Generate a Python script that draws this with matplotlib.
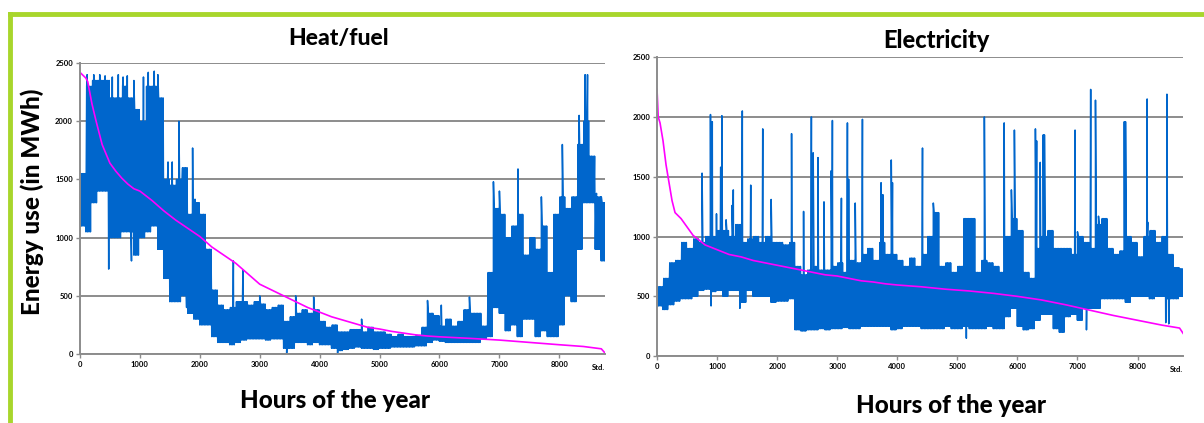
import numpy as np
import matplotlib
matplotlib.use("Agg")
import matplotlib.pyplot as plt
from matplotlib.lines import Line2D

plt.rcParams['font.family'] = ['Lato', 'DejaVu Sans']

# hour bins (100 h each) of the year
bin_hours = list(range(0, 8800, 100))

# heat/fuel: typical low / high of the hourly trace in every bin (MWh)
heat_low = [1100, 1050, 1300, 1400, 1400, 1000, 1000, 1050, 1050, 850,
            1000, 1050, 1100, 900, 650, 450, 450, 500, 350, 300,
            250, 250, 150, 100, 100, 80, 100, 120, 130, 130,
            130, 120, 130, 130, 50, 50, 100, 100, 80, 100,
            80, 80, 50, 30, 40, 50, 60, 50, 50, 40,
            50, 50, 60, 60, 60, 60, 70, 70, 100, 120,
            110, 100, 100, 100, 100, 100, 100, 130, 150, 400,
            350, 200, 250, 150, 300, 300, 150, 200, 150, 150,
            250, 500, 450, 900, 1300, 1300, 900, 800]
heat_high = [1550, 2300, 2350, 2350, 2350, 2200, 2200, 2300, 2200, 2100,
             2000, 2300, 2300, 2200, 1500, 1450, 1500, 1600, 1200, 1300,
             1200, 900, 550, 420, 380, 400, 450, 450, 420, 450,
             430, 380, 400, 420, 280, 320, 350, 380, 350, 380,
             280, 230, 250, 190, 190, 210, 210, 190, 230, 190,
             190, 170, 150, 170, 150, 150, 160, 230, 350, 330,
             240, 300, 240, 280, 380, 350, 350, 240, 700, 1250,
             1200, 1000, 1100, 1200, 850, 1000, 900, 1100, 700, 1200,
             1350, 1250, 1350, 1800, 2000, 1700, 1350, 1300]
heat_spike_hours = [120, 230, 330, 420, 480, 540, 640, 720, 790, 860, 900, 1060,
                    1140, 1240, 1300, 1380, 1470, 1540, 1650, 1700, 1780, 1880,
                    1920, 2040, 2560, 2720, 3000, 3450, 3600, 3900, 4300, 4700,
                    5800, 6030, 6500, 6900, 7000, 7310, 7700, 8050, 8330, 8430,
                    8470, 8620, 8700]
heat_spike_vals = [2400, 2400, 2400, 2390, 730, 2380, 2400, 2380, 2390, 800, 2350, 2380,
                   2420, 2430, 2400, 1650, 1650, 1650, 2000, 1400, 400, 1770,
                   1330, 1000, 800, 720, 500, 10, 500, 490, 10, 300,
                   460, 420, 490, 1480, 1400, 1590, 1350, 1800, 2050, 2400,
                   2400, 1380, 1350]
# heat/fuel: sorted load (duration) curve
heat_dur_hours = [0, 100, 130, 200, 270, 370, 500, 600, 700, 800, 900, 1000,
                  1200, 1400, 1600, 1800, 2000, 2200, 2400, 2600, 2800, 3000,
                  3200, 3400, 3600, 3800, 4000, 4200, 4400, 4600, 4800, 5000,
                  5200, 5400, 5600, 5800, 6000, 6500, 7000, 7500, 8000, 8400,
                  8700, 8760]
heat_dur_vals = [2420, 2370, 2340, 2150, 2000, 1800, 1640, 1570, 1510, 1460, 1420, 1400,
                 1320, 1230, 1150, 1080, 1010, 920, 850, 780, 690, 600,
                 550, 500, 450, 400, 360, 320, 290, 260, 230, 215,
                 195, 180, 165, 155, 148, 135, 120, 100, 80, 65,
                 45, 10]

# electricity
elec_low = [420, 390, 430, 460, 480, 480, 500, 550, 560, 540,
            550, 500, 550, 550, 450, 550, 500, 500, 500, 450,
            460, 460, 480, 220, 210, 220, 220, 230, 220, 230,
            230, 240, 230, 230, 250, 250, 250, 250, 250, 220,
            230, 250, 250, 250, 230, 230, 230, 230, 250, 230,
            230, 250, 230, 230, 230, 250, 230, 230, 330, 400,
            250, 220, 230, 300, 350, 350, 230, 200, 330, 350,
            300, 400, 400, 400, 480, 480, 480, 480, 450, 500,
            500, 500, 480, 500, 500, 480, 480, 500]
elec_high = [580, 650, 780, 800, 950, 900, 980, 950, 1000, 1000,
             1050, 1050, 1000, 1100, 950, 980, 1000, 950, 1000, 950,
             950, 930, 950, 750, 680, 720, 750, 720, 720, 750,
             780, 700, 800, 780, 850, 900, 800, 950, 850, 850,
             800, 750, 820, 750, 850, 1000, 1200, 750, 780, 700,
             750, 1150, 1150, 700, 800, 780, 750, 700, 1000, 1150,
             1050, 700, 650, 900, 1000, 1050, 900, 900, 900, 850,
             1000, 950, 900, 1100, 1150, 900, 850, 880, 1000, 950,
             830, 1000, 1050, 950, 1000, 850, 740, 730]
elec_spike_hours = [750, 890, 900, 920, 990, 1060, 1080, 1150, 1250, 1270, 1380,
                    1420, 1560, 1760, 1900, 2240, 2440, 2570, 2600, 2680, 2780,
                    2900, 2920, 3070, 3170, 3190, 3300, 3420, 3730, 3760, 3900,
                    3920, 4420, 4600, 5150, 5450, 5780, 5900, 5950, 6300, 6320,
                    6380, 6430, 6450, 6960, 7000, 7150, 7220, 7300, 7350, 7780,
                    7800, 8160, 8170, 8470, 8490, 8520]
elec_spike_vals = [1530, 2020, 420, 1960, 1190, 1580, 2010, 1140, 1260, 1390, 400,
                   2050, 1430, 1900, 1310, 1860, 1210, 2000, 1700, 1660, 1290,
                   1550, 1970, 1320, 1950, 1480, 1280, 1980, 1450, 1350, 1640,
                   1450, 1740, 1280, 150, 2000, 1950, 1390, 1890, 1900, 1800,
                   1620, 1850, 1850, 1890, 1040, 220, 2230, 2140, 1170, 1960,
                   1960, 2150, 1120, 280, 2190, 270]
elec_dur_hours = [0, 20, 50, 100, 150, 200, 250, 300, 400, 500, 600, 800,
                  1000, 1200, 1400, 1600, 1800, 2000, 2200, 2400, 2600, 2800,
                  3000, 3200, 3400, 3600, 3800, 4000, 4400, 4800, 5200, 5600,
                  6000, 6400, 6800, 7200, 7600, 8000, 8400, 8700, 8760]
elec_dur_vals = [2230, 2000, 1950, 1800, 1600, 1450, 1300, 1200, 1150, 1080, 1010, 930,
                 890, 850, 830, 800, 780, 760, 740, 720, 700, 680,
                 670, 650, 630, 620, 605, 595, 580, 560, 545, 525,
                 500, 470, 430, 385, 340, 300, 260, 235, 190]

BLUE = '#0066cc'
PINK = '#ff00ff'
GRID = '#8c8c8c'


def trace(low, high, spike_h, spike_v):
    # hourly trace swinging between the read low/high of each bin, plus the spikes
    pts = []
    for h, lo, hi in zip(bin_hours, low, high):
        for k in range(4):
            pts += [(h + 25 * k, lo), (h + 25 * k + 12.5, hi)]
    pts += list(zip(spike_h, spike_v))
    pts.sort(key=lambda p: p[0])
    x = np.array([p[0] for p in pts])
    y = np.array([p[1] for p in pts])
    return x, y


def style(ax):
    ax.set_xlim(0, 8760)
    ax.set_ylim(0, 2500)
    ax.set_xticks(range(0, 9000, 1000))
    ax.set_yticks(range(0, 3000, 500))
    ax.grid(axis='y', color=GRID, linewidth=1.4)
    ax.set_axisbelow(True)
    for s in ['top', 'right']:
        ax.spines[s].set_visible(False)
    for s in ['left', 'bottom']:
        ax.spines[s].set_color(GRID)
        ax.spines[s].set_linewidth(1.4)
    ax.tick_params(axis='both', labelsize=5.5, color=GRID, length=3, width=1, pad=2)
    for lab in ax.get_xticklabels() + ax.get_yticklabels():
        lab.set_fontweight('bold')
    ax.text(1.0, -0.045, 'Std.', transform=ax.transAxes, ha='right', va='center',
            fontsize=5.5, fontweight='bold')


fig = plt.figure(figsize=(12.04, 4.23), dpi=100)

ax1 = fig.add_axes([0.0664, 0.163, 0.436, 0.688])
x, y = trace(heat_low, heat_high, heat_spike_hours, heat_spike_vals)
ax1.plot(x, y, color=BLUE, linewidth=1.1)
ax1.plot(heat_dur_hours, heat_dur_vals, color=PINK, linewidth=1.2)
style(ax1)

ax2 = fig.add_axes([0.5457, 0.158, 0.437, 0.707])
x, y = trace(elec_low, elec_high, elec_spike_hours, elec_spike_vals)
ax2.plot(x, y, color=BLUE, linewidth=1.1)
ax2.plot(elec_dur_hours, elec_dur_vals, color=PINK, linewidth=1.2)
style(ax2)

fig.text(0.2816, 0.910, 'Heat/fuel', ha='center', va='center', fontsize=16.5, fontweight='black')
fig.text(0.778, 0.905, 'Electricity', ha='center', va='center', fontsize=17, fontweight='black')
fig.text(0.027, 0.524, 'Energy use (in MWh)', rotation=90, ha='center', va='center',
         fontsize=17.5, fontweight='black')
fig.text(0.278, 0.054, 'Hours of the year', ha='center', va='center', fontsize=17.5, fontweight='black')
fig.text(0.790, 0.042, 'Hours of the year', ha='center', va='center', fontsize=17.5, fontweight='black')

# green frame
green = '#a8d62c'
fig.add_artist(Line2D([0.008, 1.0], [0.967, 0.967], color=green, linewidth=3.5))
fig.add_artist(Line2D([0.008, 0.008], [0.0, 0.967], color=green, linewidth=3.5))

fig.savefig('out.png', dpi=100)
